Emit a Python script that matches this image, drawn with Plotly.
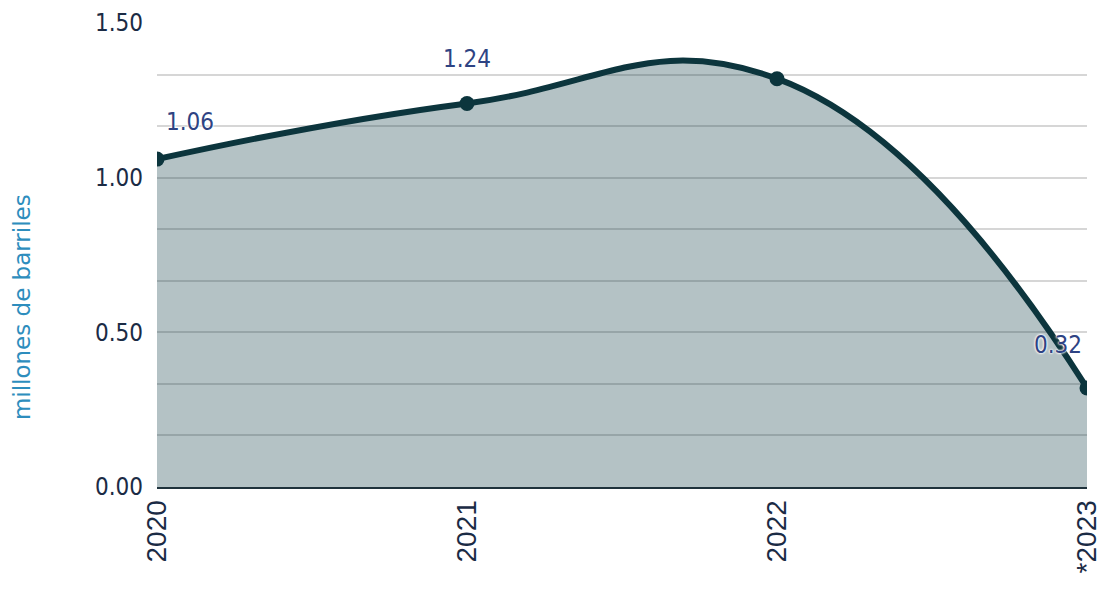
import plotly.graph_objects as go

years = [2020, 2021, 2022, 2023]
values = [1.06, 1.24, 1.32, 0.32]
tick_labels = ["2020", "2021", "2022", "*2023"]
show_label = [True, True, False, True]
label_shifts = [(33, 37), (0, 44), (0, 44), (-29, 43)]

LABEL_FONT = "DejaVu Sans Condensed, DejaVu Sans"

fig = go.Figure()
fig.add_trace(go.Scatter(
    x=years, y=values, mode="lines+markers",
    line=dict(shape="spline", smoothing=1.3, color="#0c353d", width=6),
    marker=dict(size=15, color="#0c353d"),
    fill="tozeroy", fillcolor="rgba(14,58,67,0.31)",
    hoverinfo="skip", cliponaxis=True,
))

for x, y, s, (dx, dy) in zip(years, values, show_label, label_shifts):
    if not s:
        continue
    fig.add_annotation(
        x=x, y=y, text=f"{y:.2f}", showarrow=False, xshift=dx, yshift=dy,
        xanchor="center", yanchor="middle",
        font=dict(family=LABEL_FONT, size=24, color="#2e4383",
                  shadow="0px 0px 2px white, 0px 0px 2px white, 0px 0px 3px white"),
    )

# axis title placed as a rotated annotation (offset downward as in the reference)
fig.add_annotation(
    xref="paper", yref="paper", x=-0.145, y=0.388, text="millones de barriles",
    showarrow=False, textangle=-90, xanchor="center", yanchor="middle",
    font=dict(family="DejaVu Sans", size=23, color="#2d8dbd"),
)

# page body has an 8px offset; margins compensate so the plot area lands at 157..1087 x 23..487
fig.update_layout(
    width=1114, height=592,
    margin=dict(l=149, r=35, t=15, b=113),
    paper_bgcolor="white", plot_bgcolor="white",
    showlegend=False,
    xaxis=dict(
        range=[2020, 2023], tickvals=years, ticktext=tick_labels,
        tickangle=-90, showgrid=False, zeroline=False, automargin=False,
        showline=True, linecolor="#1f323c", linewidth=2,
        ticks="", ticklen=0,
        tickfont=dict(family="Liberation Sans, Arial", size=28, color="#1b2b45"),
    ),
    yaxis=dict(
        range=[0, 1.5], tickvals=[0, 0.5, 1.0, 1.5], tickformat=".2f",
        showgrid=True, gridcolor="#d6d6d6", gridwidth=2, automargin=False,
        minor=dict(dtick=0.5 / 3, tick0=0, showgrid=True, gridcolor="#d6d6d6", gridwidth=2),
        zeroline=False, showline=False, ticks="", ticklabelstandoff=13,
        tickfont=dict(family=LABEL_FONT, size=24, color="#1b2b45"),
    ),
)

fig.write_html("out.html")
